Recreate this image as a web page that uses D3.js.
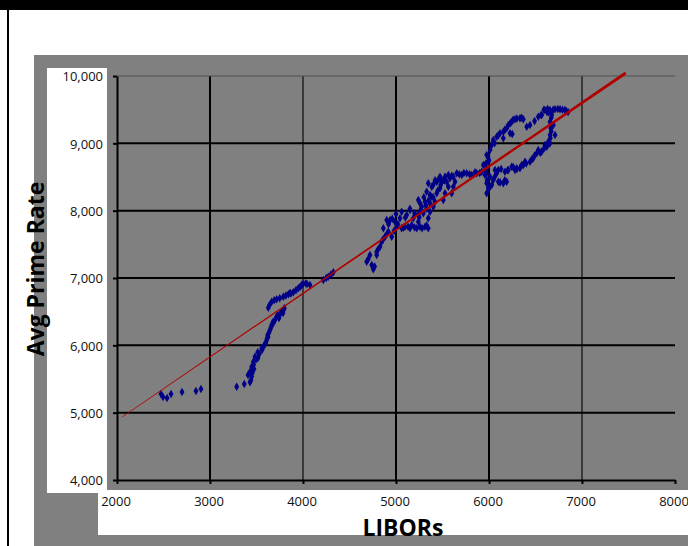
<!DOCTYPE html>
<html>
<head>
<meta charset="utf-8">
<script src="https://cdn.jsdelivr.net/npm/d3@7"></script>
<style>
  body { margin: 0; background: #fff; }
  svg { display: block; }
</style>
</head>
<body>
<svg id="chart" width="688" height="546"></svg>
<script>
// LIBOR (x) vs average prime rate (y)
const libor = [
  2473, 2495, 2538, 2581, 2699, 2849, 2903,
  3287, 3369, 3430, 3448, 3430, 3448, 3466, 3484, 3513, 3556, 3584, 3610, 3620, 3645, 3663, 3699, 3728, 3771, 3799,
  3409, 3473, 3516, 3559, 3624, 3677, 3742, 3785,
  3627, 3663, 3717, 3788, 3842, 3860, 3896, 3950, 3986, 4029, 4043, 4075, 4218, 4272, 4326,
  4685, 4739, 4756, 4720, 4793, 4828, 4793, 4846, 4882, 4954, 4917, 4864, 4900, 4936, 4989, 5043, 5008, 5061, 5097, 5151,
  5169, 5223, 5258, 5312, 5347, 5240, 5186, 5240, 5294, 5347, 5366, 5330, 5151, 5061, 5115, 5276, 5240, 5258, 5312, 5366,
  5401, 5419, 5384, 5438, 5473, 5527, 5509, 5563, 5545, 5527, 5509, 5563, 5616, 5653, 5707, 5760, 5814, 5868, 5922, 5599,
  5616, 5635, 5347, 5384, 5438, 5473, 5491, 5366, 5330,
  5975, 6011, 5993, 5939, 5975, 6011, 5975, 6011, 6046, 6083, 6100, 6154, 6190, 6065, 6172, 6244, 6280, 6333, 6369, 6441,
  6476, 6513, 6567, 6621, 6656, 5957, 5975, 5968, 6029, 6046, 6083, 6118, 6154, 6190, 6208, 6244, 6280, 6333, 6369, 6226,
  6154, 5993, 5975, 6100, 6208, 6298, 6352, 6387, 6530, 6602, 6638, 6656, 6664, 6656, 6674, 6656, 6602, 6710, 6764, 6817,
  6567, 6530, 6441, 6406, 6692, 6710, 6850, 6624,
  3440, 3455, 3470, 3495, 3530, 3575, 3600, 3615, 3635, 3655, 3680, 3715, 3755, 3790,
  3640, 3690, 3750, 3815, 3870, 3925, 3970, 4000, 4250, 4300,
  4700, 4770, 4810, 4860, 4900, 4920, 4960, 5020, 5080, 5130, 5200, 5280, 5330, 5100, 5200, 5260, 5320, 5350, 5400, 5450,
  5480, 5520, 5580, 5600, 5680, 5730, 5790, 5850, 5900, 5400, 5420, 5460, 5300, 5150, 5000, 4980, 5250,
  5990, 6000, 5960, 5980, 6030, 6060, 6120, 6170, 6060, 6100, 6170, 6230, 6260, 6300, 6350, 6130, 6200, 6260, 6300, 6400,
  6460, 6490, 6550, 6590, 6640, 6660, 6670, 6665, 6670, 6640, 6590, 6630, 6690, 6740, 6790, 6830, 6560, 6490, 6250
];
const prime = [
  5277, 5233, 5218, 5277, 5307, 5322, 5351,
  5386, 5426, 5451, 5534, 5608, 5683, 5757, 5831, 5896, 5956, 6005, 6079, 6153, 6228, 6302, 6376, 6450, 6499, 6550,
  5559, 5648, 5812, 5931, 6124, 6346, 6406, 6480,
  6559, 6648, 6684, 6722, 6758, 6777, 6788, 6847, 6896, 6921, 6911, 6896, 6970, 7019, 7085,
  7242, 7193, 7129, 7341, 7391, 7465, 7341, 7539, 7613, 7613, 7687, 7738, 7861, 7861, 7836, 7886, 7762, 7738, 7762, 7738,
  7787, 7738, 7762, 7762, 7738, 7836, 7886, 7935, 7961, 7886, 7985, 8035, 8010, 7985, 7935, 8059, 8158, 8109, 8133, 8109,
  8059, 8133, 8207, 8258, 8332, 8258, 8158, 8356, 8430, 8504, 8455, 8530, 8504, 8555, 8530, 8555, 8530, 8555, 8579, 8258,
  8356, 8430, 8406, 8356, 8430, 8504, 8430, 8233, 8282,
  8827, 8901, 8727, 8678, 8555, 8504, 8406, 8356, 8455, 8555, 8430, 8406, 8430, 8604, 8579, 8653, 8604, 8629, 8678, 8727,
  8778, 8852, 8877, 8950, 9000, 8530, 8629, 8703, 8975, 9049, 9098, 9149, 9173, 9223, 9272, 9321, 9357, 9372, 9357, 9149,
  9075, 8332, 8258, 8604, 8604, 8629, 8678, 8727, 8901, 8975, 9024, 9124, 9223, 9321, 9421, 9495, 9495, 9505, 9505, 9495,
  9421, 9395, 9272, 9247, 9272, 9124, 9465, 9465,
  5480, 5590, 5710, 5790, 5870, 5980, 6040, 6110, 6190, 6260, 6330, 6420, 6470, 6520,
  6600, 6670, 6700, 6740, 6770, 6820, 6870, 6910, 7000, 7050,
  7280, 7170, 7430, 7570, 7650, 7800, 7880, 7800, 7750, 7760, 7750, 7740, 7780, 7900, 7960, 8000, 8080, 8150, 8200, 8300,
  8380, 8450, 8480, 8520, 8540, 8560, 8540, 8570, 8560, 8380, 8450, 8470, 8200, 8030, 7950, 7700, 7900,
  8800, 8750, 8600, 8450, 8380, 8500, 8420, 8450, 9000, 9120, 9200, 9300, 9350, 9370, 9380, 8620, 8600, 8650, 8620, 8700,
  8760, 8820, 8860, 8920, 8990, 9080, 9180, 9280, 9380, 9460, 9500, 9510, 9500, 9510, 9500, 9480, 9420, 9330, 9140
];

// linear trend line end points
const trendLibor = [2055, 7470];
const trendPrime = [4935, 10045];

const xTicks = [2000, 3000, 4000, 5000, 6000, 7000, 8000];
const yTicks = [4000, 5000, 6000, 7000, 8000, 9000, 10000];

const svg = d3.select("#chart");

// frame: black top band, left rule, grey chart area, white label panels
svg.append("rect").attr("x", 0).attr("y", 0).attr("width", 688).attr("height", 10).attr("fill", "#000");
svg.append("rect").attr("x", 7).attr("y", 0).attr("width", 2).attr("height", 546).attr("fill", "#000");
svg.append("rect").attr("x", 34).attr("y", 55).attr("width", 654).attr("height", 491).attr("fill", "#808080");
svg.append("rect").attr("x", 47).attr("y", 68).attr("width", 60).attr("height", 425).attr("fill", "#fff");
svg.append("rect").attr("x", 98).attr("y", 490).attr("width", 590).attr("height", 45).attr("fill", "#fff");

const x = d3.scaleLinear().domain([2000, 8000]).range([117, 675]);
const y = d3.scaleLinear().domain([4000, 10000]).range([480, 76]);

// gridlines
const darkX = [4000, 7000];
svg.append("g").selectAll("line")
  .data(xTicks.slice(1, -1))
  .enter().append("line")
  .attr("x1", d => x(d)).attr("x2", d => x(d))
  .attr("y1", y(10000)).attr("y2", y(4000))
  .attr("stroke", d => darkX.includes(d) ? "#3a3a3a" : "#000")
  .attr("stroke-width", 2);

svg.append("g").selectAll("line")
  .data(yTicks.slice(1))
  .enter().append("line")
  .attr("x1", x(2000)).attr("x2", x(8000))
  .attr("y1", d => y(d)).attr("y2", d => y(d))
  .attr("stroke", d => d === 10000 ? "#505050" : "#000")
  .attr("stroke-width", d => d === 10000 ? 1 : 2);

// axes
const xAxis = svg.append("g")
  .attr("transform", "translate(0," + y(4000) + ")")
  .call(d3.axisBottom(x).tickValues(xTicks).tickSize(4).tickSizeOuter(0).tickPadding(13).tickFormat(d3.format("d")));
xAxis.selectAll("text").attr("dx", -1.5);

const yAxis = svg.append("g")
  .attr("transform", "translate(" + x(2000) + ",0)")
  .call(d3.axisLeft(y).tickValues(yTicks).tickSize(4).tickSizeOuter(0).tickPadding(10).tickFormat(d3.format(",")));

svg.selectAll(".domain").attr("stroke", "#000").attr("stroke-width", 2);
svg.selectAll(".tick line").attr("stroke", "#000").attr("stroke-width", 2);
svg.selectAll(".tick text")
  .attr("fill", "#111")
  .style("font-family", "'Open Sans', sans-serif")
  .style("font-size", "13px");
yAxis.selectAll("text").attr("dy", "0.36em");

// scatter points
const pts = libor.map((v, i) => [v, prime[i]]);
svg.append("g").selectAll("path")
  .data(pts)
  .enter().append("path")
  .attr("transform", d => "translate(" + x(d[0]) + "," + y(d[1]) + ")")
  .attr("d", d3.symbol().type(d3.symbolDiamond).size(21))
  .attr("fill", "#000088");

// trend line, drawn thin at the left end and thicker at the right
const p0 = [x(trendLibor[0]), y(trendPrime[0])];
const p1 = [x(trendLibor[1]), y(trendPrime[1])];
const len = Math.hypot(p1[0] - p0[0], p1[1] - p0[1]);
const nx = -(p1[1] - p0[1]) / len, ny = (p1[0] - p0[0]) / len;
const w0 = 0.3, w1 = 1.5;
svg.append("path")
  .attr("d", d3.line()([
    [p0[0] + nx * w0, p0[1] + ny * w0],
    [p1[0] + nx * w1, p1[1] + ny * w1],
    [p1[0] - nx * w1, p1[1] - ny * w1],
    [p0[0] - nx * w0, p0[1] - ny * w0]
  ]) + "Z")
  .attr("fill", "#b00000");

// axis titles
svg.append("text")
  .attr("transform", "translate(44,269) rotate(-90)")
  .attr("text-anchor", "middle")
  .style("font-family", "'Open Sans', sans-serif")
  .style("font-weight", "bold")
  .style("font-size", "23px")
  .text("Avg Prime Rate");

svg.append("text")
  .attr("x", 403).attr("y", 536)
  .attr("text-anchor", "middle")
  .style("font-family", "'Open Sans', sans-serif")
  .style("font-weight", "bold")
  .style("font-size", "23px")
  .text("LIBORs");
</script>
</body>
</html>
